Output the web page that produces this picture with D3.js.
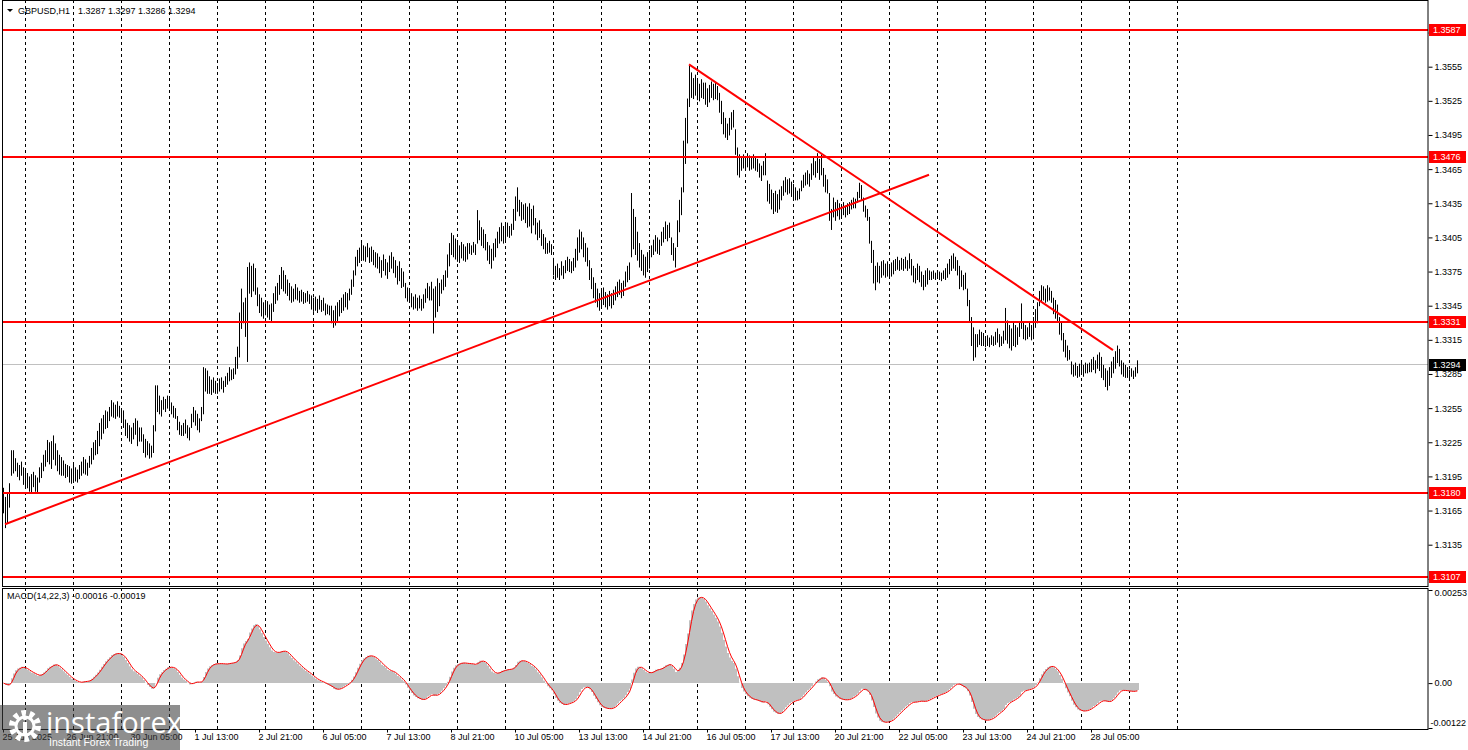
<!DOCTYPE html>
<html>
<head>
<meta charset="utf-8">
<script src="https://cdn.jsdelivr.net/npm/d3@7"></script>
<style>
  body { margin: 0; background: #fff; }
  svg { display: block; font-family: "Liberation Sans", Arial, sans-serif; }
</style>
</head>
<body>
<div id="chart"></div>
<script>
// ---- data (prices as pips above 1.3000, one entry per H1 bar) ----
const pipBase = 1.3;
const highs = [
  185,177,181,189,218,218,211,207,205,208, 203,200,198,195,197,199,196,194,203,207,
  214,218,227,225,226,231,224,218,214,212, 209,206,205,204,202,206,203,201,205,208,
  212,210,207,213,220,225,227,235,242,246, 249,253,252,256,262,260,258,261,257,255,
  253,245,242,240,238,242,246,244,238,238, 232,228,226,224,222,240,275,275,266,262,
  265,263,266,263,260,257,255,248,243,240, 242,245,240,238,250,256,253,250,246,256,
  291,290,288,283,280,282,279,277,281,282, 279,283,286,291,289,290,300,309,339,360,
  348,352,379,383,380,382,378,361,355,352, 348,350,349,346,347,356,362,365,372,379,
  376,372,368,365,362,360,364,361,358,359, 357,356,358,355,354,352,353,351,354,350,
  352,347,346,345,345,341,345,348,350,352, 355,357,356,360,368,376,388,394,396,400,
  398,397,400,396,397,394,392,391,388,385, 390,386,383,389,392,388,385,380,384,378,
  375,365,361,358,356,353,355,352,354,351, 355,360,365,362,366,360,362,369,365,368,
  372,376,390,400,409,407,404,402,398,401, 399,397,400,400,398,401,399,429,420,414,
  412,408,401,398,395,400,404,410,414,418, 415,417,418,415,417,430,441,449,438,436,
  434,435,432,435,430,433,422,418,420,412, 408,405,400,402,399,387,380,382,378,384,
  380,385,388,386,384,387,395,405,412,410, 405,400,396,385,378,370,365,360,356,358,
  361,357,355,358,356,359,362,366,368,365, 367,375,380,383,444,430,423,410,400,394,
  390,388,392,394,398,403,407,405,403,410, 414,419,416,418,405,400,396,420,438,449,
  490,510,527,556,550,545,548,543,540,544, 541,541,536,539,542,540,541,538,532,525,
  515,510,505,510,515,517,500,484,478,475, 478,476,479,477,475,478,476,474,470,468,
  472,479,455,452,447,444,446,443,447,450, 455,458,456,457,454,452,449,446,448,455,
  460,462,464,461,470,476,472,479,474,478, 466,460,456,444,430,440,436,438,435,434,
  436,433,435,436,438,440,439,445,453,451, 440,433,430,423,402,394,380,383,380,384,
  385,382,384,381,383,385,386,388,385,387, 386,388,385,391,386,380,378,382,380,375,
  372,376,378,376,375,376,374,376,375,374, 376,378,382,386,389,391,388,385,380,376,
  372,374,360,350,335,326,320,320,324,322, 321,318,319,317,319,318,322,325,320,318,
  323,343,332,328,325,330,328,326,330,347, 330,328,326,330,328,335,342,348,358,363,
  362,360,363,361,358,352,350,346,335,330, 321,315,310,306,296,293,295,292,294,296,
  293,295,294,295,298,300,297,302,304,300, 293,290,288,291,296,300,305,310,307,297,
  295,293,291,289,290,288,291,297
];
const lows = [
  163,150,154,168,196,198,200,195,192,196, 188,185,185,182,181,186,182,180,190,194,
  200,204,208,206,202,210,205,200,197,196, 196,194,195,190,189,192,191,190,193,196,
  198,197,196,203,206,210,214,215,222,228, 233,237,238,244,248,247,246,248,247,245,
  238,231,229,226,224,228,232,222,226,226, 216,212,214,211,212,216,235,252,250,248,
  254,252,255,253,250,247,246,236,232,231, 231,233,229,227,238,243,240,236,234,244,
  250,270,268,268,267,269,268,268,270,272, 269,274,276,279,280,281,285,290,300,325,
  330,318,296,356,353,358,355,345,339,336, 334,337,335,333,332,340,347,350,355,360,
  358,356,354,350,348,349,351,350,348,349, 347,348,349,347,342,340,341,339,342,340,
  341,337,338,337,330,326,328,332,336,339, 341,344,342,350,355,362,372,380,383,387,
  385,384,388,383,384,381,379,378,374,370, 376,372,369,375,378,374,370,364,367,361,
  362,352,349,348,344,342,343,341,343,341, 343,348,352,350,350,321,335,340,345,356,
  359,362,370,380,390,388,386,384,383,387, 385,384,386,391,390,392,390,400,403,398,
  396,394,385,382,378,385,388,396,400,402, 400,403,406,405,407,412,420,428,424,420,
  421,418,414,415,409,416,408,403,405,398, 395,391,391,392,390,372,368,370,368,372,
  369,374,376,375,374,376,379,385,392,395, 388,384,380,368,360,352,348,344,341,343,
  346,344,342,345,343,346,350,353,355,352, 354,362,366,368,388,395,390,385,379,376,
  372,370,375,378,388,390,393,391,390,398, 401,404,402,405,390,385,379,397,410,425,
  445,470,488,520,528,527,530,526,525,528, 527,522,520,524,528,526,527,526,515,505,
  496,493,491,495,500,502,478,460,458,464, 466,465,467,464,465,466,464,463,458,455,
  460,460,437,435,430,426,428,427,430,438, 442,445,443,444,441,440,438,438,439,446,
  449,451,452,450,456,460,458,462,456,460, 450,445,444,420,412,423,420,424,421,424,
  425,423,425,426,430,431,431,436,440,438, 428,423,420,400,383,365,359,366,365,370,
  372,370,371,370,371,373,376,377,376,377, 376,378,376,378,372,366,365,368,366,362,
  359,362,364,368,368,369,368,369,368,367, 369,368,370,373,376,378,376,372,360,362,
  359,360,345,332,310,297,300,309,311,310, 310,309,310,309,311,310,311,313,309,310,
  312,315,312,308,306,310,309,311,318,325, 316,315,316,318,315,316,326,330,345,348,
  350,348,349,350,348,338,334,331,320,315, 305,300,297,298,285,283,284,282,283,285,
  283,286,286,287,287,289,286,290,288,282, 280,274,271,275,282,286,290,295,292,285,
  283,282,282,281,283,281,283,286
];

const symbolTitle = "GBPUSD,H1";
const lastOHLC = "1.3287 1.3297 1.3286 1.3294";
const lastPrice = 1.3294;
const levels = [1.3587, 1.3476, 1.3331, 1.3180, 1.3107];
// trend lines: [bar index, price]
const trendLines = [
  { from: [1, 1.3153], to: [463, 1.3460] },
  { from: [343, 1.3557], to: [555, 1.3306] }
];
const priceTicks = [1.3105, 1.3135, 1.3165, 1.3195, 1.3225, 1.3255, 1.3285, 1.3315,
  1.3345, 1.3375, 1.3405, 1.3435, 1.3465, 1.3495, 1.3525, 1.3555, 1.3585];
const macdTicks = [0.00253, 0, -0.00122];
const macdTickLabels = ["0.00253", "0.00", "-0.00122"];
const macdTitle = "MACD(14,22,3) -0.00016 -0.00019";
const timeLabels = ["25 Jun 2025", "26 Jun 21:00", "30 Jun 05:00", "1 Jul 13:00", "2 Jul 21:00",
  "6 Jul 05:00", "7 Jul 13:00", "8 Jul 21:00", "10 Jul 05:00", "13 Jul 13:00", "14 Jul 21:00",
  "16 Jul 05:00", "17 Jul 13:00", "20 Jul 21:00", "22 Jul 05:00", "23 Jul 13:00",
  "24 Jul 21:00", "28 Jul 05:00"];
const barsPerLabel = 32;
const barsPerGrid = 24;
const firstGridBar = 11;
const gridCount = 25;

// ---- layout ----
const W = 1468, H = 750;
const plotLeft = 3, plotRight = 1428;
const priceTop = 0, priceBottom = 586, macdTop = 588, macdBottom = 729;
const fontSize = "9px";
const fontFamily = "Liberation Sans, Arial, sans-serif";

const toPrice = v => pipBase + v / 10000;

const svg = d3.select("#chart").append("svg")
  .attr("width", W).attr("height", H);

const x = d3.scaleLinear().domain([0, 712.5]).range([plotLeft, plotRight]);
const y = d3.scaleLinear().domain([1.30987, 1.36136]).range([priceBottom, priceTop]);
const yM = d3.scaleLinear().domain([-0.00122, 0.00253]).range([728, 590]);
const crisp = v => Math.round(v) + 0.5;

// MACD (14,22,3) from the bar prices
const median = highs.map((h, i) => toPrice((h + lows[i]) / 2));
function ema(src, n) {
  const k = 2 / (n + 1);
  let prev = src[0];
  return src.map(v => (prev = prev + k * (v - prev)));
}
const ema14 = ema(median, 14), ema22 = ema(median, 22);
const macd = ema14.map((v, i) => v - ema22[i]);
const signal = macd.map((v, i) => d3.mean(macd.slice(Math.max(0, i - 2), i + 1)));

// clip paths
const defs = svg.append("defs");
defs.append("clipPath").attr("id", "clipPrice").append("rect")
  .attr("x", plotLeft).attr("y", priceTop).attr("width", plotRight - plotLeft).attr("height", priceBottom - priceTop);
defs.append("clipPath").attr("id", "clipMacd").append("rect")
  .attr("x", plotLeft).attr("y", macdTop).attr("width", plotRight - plotLeft).attr("height", macdBottom - macdTop);

// vertical dashed grid
const gridBars = d3.range(gridCount).map(k => firstGridBar + k * barsPerGrid);
[[priceTop, priceBottom], [macdTop, macdBottom]].forEach(([t, b]) => {
  svg.append("g").selectAll("line").data(gridBars).join("line")
    .attr("x1", d => crisp(x(d))).attr("x2", d => crisp(x(d)))
    .attr("y1", t).attr("y2", b)
    .attr("stroke", "#000").attr("stroke-width", 1).attr("stroke-dasharray", "3,3");
});

// price panel
const pricePanel = svg.append("g").attr("clip-path", "url(#clipPrice)");

pricePanel.append("line")
  .attr("x1", plotLeft).attr("x2", plotRight)
  .attr("y1", crisp(y(lastPrice))).attr("y2", crisp(y(lastPrice)))
  .attr("stroke", "#c0c0c0").attr("stroke-width", 1);

pricePanel.append("g").selectAll("line").data(highs).join("line")
  .attr("x1", (d, i) => crisp(x(i))).attr("x2", (d, i) => crisp(x(i)))
  .attr("y1", d => y(toPrice(d))).attr("y2", (d, i) => y(toPrice(lows[i])) + 0.5)
  .attr("stroke", "#000").attr("stroke-width", 1);

pricePanel.append("g").selectAll("line").data(levels).join("line")
  .attr("x1", plotLeft).attr("x2", plotRight)
  .attr("y1", d => Math.round(y(d))).attr("y2", d => Math.round(y(d)))
  .attr("stroke", "#ff0000").attr("stroke-width", 2);

pricePanel.append("g").selectAll("line").data(trendLines).join("line")
  .attr("x1", d => x(d.from[0])).attr("y1", d => y(d.from[1]))
  .attr("x2", d => x(d.to[0])).attr("y2", d => y(d.to[1]))
  .attr("stroke", "#ff0000").attr("stroke-width", 2);

// MACD panel: histogram as one stepped area so there are no seams between bars
const macdPanel = svg.append("g").attr("clip-path", "url(#clipMacd)");
const histArea = d3.area()
  .curve(d3.curveStepAfter)
  .x((d, i) => Math.round(x(i)))
  .y0(yM(0))
  .y1(d => yM(d));
macdPanel.append("path")
  .datum(macd.concat([macd[macd.length - 1]]))
  .attr("d", histArea)
  .attr("fill", "#c0c0c0");
macdPanel.append("path")
  .datum(signal)
  .attr("d", d3.line().x((d, i) => x(i) + 0.5).y(d => yM(d)))
  .attr("fill", "none").attr("stroke", "#ff0000").attr("stroke-width", 1);

// frames
[[priceTop, priceBottom], [macdTop, macdBottom]].forEach(([t, b]) => {
  svg.append("rect")
    .attr("x", plotLeft - 0.5).attr("y", t + 0.5)
    .attr("width", plotRight - plotLeft + 0.5).attr("height", b - t)
    .attr("fill", "none").attr("stroke", "#000").attr("stroke-width", 1);
});

// price axis
const priceAxis = svg.append("g")
  .attr("transform", `translate(${plotRight + 0.5},0)`)
  .call(d3.axisRight(y).tickValues(priceTicks).tickFormat(d3.format(".4f")).tickSize(4).tickPadding(2));
priceAxis.select(".domain").remove();
priceAxis.selectAll("text").attr("font-size", fontSize).attr("font-family", fontFamily).attr("fill", "#000");

// level labels
const levelLabels = svg.append("g");
levels.forEach(v => {
  const yy = Math.round(y(v));
  levelLabels.append("rect").attr("x", plotRight + 1).attr("y", yy - 6).attr("width", 37).attr("height", 12).attr("fill", "#ff0000");
  levelLabels.append("text").attr("x", plotRight + 5).attr("y", yy).attr("dy", "0.35em")
    .attr("font-size", fontSize).attr("fill", "#fff").text(v.toFixed(4));
});
{
  const yy = Math.round(y(lastPrice));
  levelLabels.append("rect").attr("x", plotRight + 1).attr("y", yy - 5).attr("width", 37).attr("height", 12).attr("fill", "#000");
  levelLabels.append("text").attr("x", plotRight + 5).attr("y", yy + 1).attr("dy", "0.35em")
    .attr("font-size", fontSize).attr("fill", "#fff").text(lastPrice.toFixed(4));
}

// MACD axis (labels kept inside the panel like the terminal does)
const macdAxis = svg.append("g")
  .attr("transform", `translate(${plotRight + 0.5},0)`)
  .call(d3.axisRight(yM).tickValues(macdTicks).tickFormat((d, i) => macdTickLabels[i]).tickSize(4).tickPadding(2));
macdAxis.select(".domain").remove();
macdAxis.selectAll("text").attr("font-size", fontSize).attr("font-family", fontFamily).attr("fill", "#000")
  .attr("y", d => d === macdTicks[0] ? 3 : d === macdTicks[2] ? -5 : 0)
  .attr("x", d => d === macdTicks[2] ? 2 : 6);

// time axis
const labelBars = timeLabels.map((t, k) => k * barsPerLabel);
const timeAxis = svg.append("g")
  .attr("transform", `translate(0,${macdBottom + 0.5})`)
  .call(d3.axisBottom(x).tickValues(labelBars).tickFormat((d, i) => timeLabels[i]).tickSize(3).tickPadding(2));
timeAxis.select(".domain").remove();
timeAxis.selectAll(".tick").attr("transform", d => `translate(${crisp(x(d))},0)`);
timeAxis.selectAll("text")
  .attr("text-anchor", "start").attr("x", -1).attr("y", 4)
  .attr("font-size", fontSize).attr("font-family", fontFamily).attr("fill", "#000");

// titles
svg.append("path").attr("d", "M7,9 L13,9 L10,12 Z").attr("fill", "#000");
const title = svg.append("text").attr("x", 18).attr("y", 14).attr("font-size", fontSize).attr("fill", "#000");
title.append("tspan").text(symbolTitle);
title.append("tspan").attr("x", 78).text(lastOHLC);
svg.append("text").attr("x", 7).attr("y", 596).attr("dy", "0.35em")
  .attr("font-size", fontSize).attr("fill", "#000").text(macdTitle);

// watermark
const wm = svg.append("g");
wm.append("rect").attr("x", 0).attr("y", 705).attr("width", 180).attr("height", 45).attr("fill", "rgba(60,60,60,0.58)");
wm.append("circle").attr("cx", 25).attr("cy", 726).attr("r", 13)
  .attr("fill", "none").attr("stroke", "#fff").attr("stroke-width", 6).attr("stroke-dasharray", "4.5,3.7");
wm.append("circle").attr("cx", 25).attr("cy", 726).attr("r", 9)
  .attr("fill", "none").attr("stroke", "#fff").attr("stroke-width", 3);
wm.append("rect").attr("x", 23).attr("y", 722).attr("width", 4).attr("height", 12).attr("fill", "#fff");
wm.append("circle").attr("cx", 25).attr("cy", 718).attr("r", 2.2).attr("fill", "#fff");
wm.append("text").attr("x", 46).attr("y", 733).attr("font-size", "29px").attr("fill", "#fff")
  .attr("font-family", "Open Sans, Liberation Sans, sans-serif").text("instaforex");
wm.append("text").attr("x", 49).attr("y", 746).attr("font-size", "10.5px").attr("fill", "#fff")
  .text("Instant Forex Trading");
</script>
</body>
</html>
